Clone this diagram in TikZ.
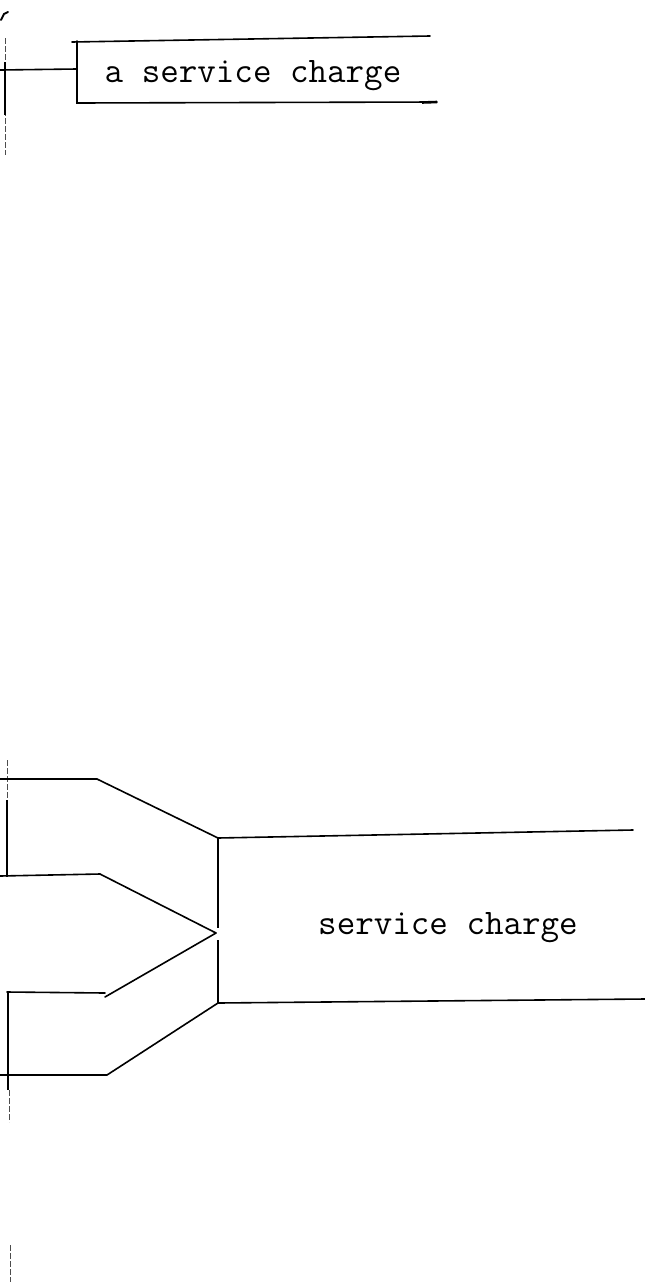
\documentclass[tikz,border=0pt]{standalone}
\usepackage{fontspec}
\usetikzlibrary{arrows.meta}
\begin{document}
\begin{tikzpicture}[x=1pt,y=-1pt,
  wire/.style={line width=1.6pt,line cap=round},
  faint/.style={line width=0.7pt,black!70,dash pattern=on 6pt off 2pt},
  lbl/.style={font=\ttfamily\fontsize{36}{40}\selectfont,inner sep=0pt,anchor=center}]
\useasboundingbox (0,0) rectangle (645,1282);
% ---------- top part ----------
\coordinate (tick) at (4,14);
\draw[line width=2pt,line cap=round] (1,20) -- (tick) -- (8,12);
\draw[faint] (5,38) -- (5,155);
\draw[line width=1.4pt] (5,62) -- (5,115);
\coordinate (tl) at (77,41);
\coordinate (bl) at (77,103);
\coordinate (tr) at (430,36);
\coordinate (br) at (437,102);
\coordinate (in0) at (0,70);
\node[lbl] (a) at (253,76) {a service charge};
\draw[wire] (in0) -- (77,69);
\draw[wire] (72,42) -- (tr);
\draw[wire] (tl) -- (bl) -- (br);
\draw[line width=2.6pt] (422,102.5) -- (br);
% ---------- bottom part ----------
\draw[faint] (7,760) -- (7,877);
\draw[line width=1.4pt] (7,800) -- (7,877);
\draw[line width=1.4pt] (8,992) -- (8,1090);
\draw[faint] (9,1090) -- (9,1122);
\draw[faint] (10,1245) -- (10,1282);
\coordinate (btl) at (218,838);
\coordinate (bbl) at (218,1003);
\coordinate (btr) at (633,830);
\coordinate (bbr) at (645,999);
\coordinate (mid) at (216,933);
\node[lbl] (b) at (448,928) {service charge};
\coordinate (s1) at (0,779);
\coordinate (s2) at (0,876);
\coordinate (s3) at (7,992);
\coordinate (s4) at (0,1075);
\draw[wire] (s1) -- (97,779) -- (btl);
\draw[wire] (s2) -- (100,874) -- (mid);
\draw[wire] (s3) -- (105,993);
\draw[wire] (105,997) -- (mid);
\draw[wire] (s4) -- (107,1075) -- (bbl);
\draw[wire] (btl) -- (btr);
\draw[wire] (bbl) -- (bbr);
\draw[line width=2pt] (btl) -- (218,928);
\draw[line width=2pt] (218,940) -- (bbl);
\end{tikzpicture}
\end{document}
